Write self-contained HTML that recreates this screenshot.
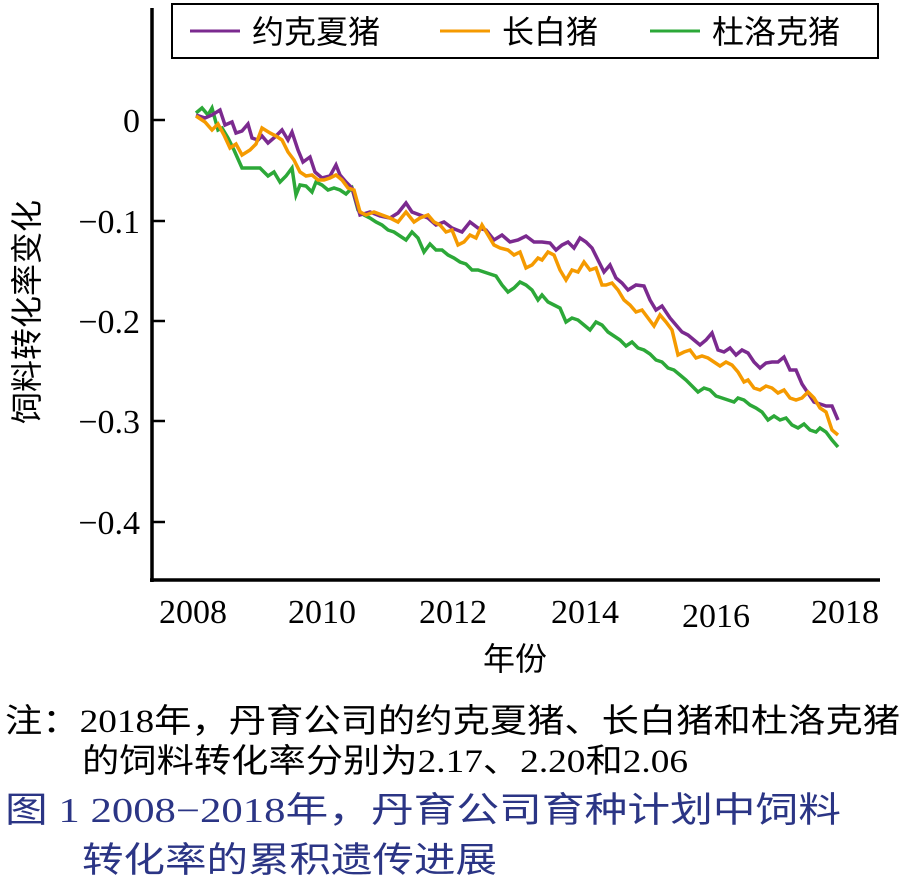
<!DOCTYPE html>
<html><head><meta charset="utf-8"><style>
html,body{margin:0;padding:0;background:#fff;}
svg{display:block;}
text{font-family:"Liberation Serif","Noto Sans CJK SC",serif;}
.cn{font-family:"Liberation Serif","Noto Sans CJK SC",sans-serif;}
</style></head><body>
<svg width="905" height="885" viewBox="0 0 905 885" xmlns="http://www.w3.org/2000/svg">
<line x1="152" y1="8" x2="152" y2="582" stroke="#000" stroke-width="3.5"/>
<line x1="150" y1="580" x2="880" y2="580" stroke="#000" stroke-width="3.5"/>
<g stroke="#000" stroke-width="2.5">
<line x1="152" y1="120" x2="165" y2="120"/><line x1="152" y1="221" x2="165" y2="221"/>
<line x1="152" y1="321" x2="165" y2="321"/><line x1="152" y1="421" x2="165" y2="421"/>
<line x1="152" y1="522" x2="165" y2="522"/>
</g>
<g font-size="34" text-anchor="end" style="font-family:'Liberation Serif',serif">
<text x="140" y="132">0</text><text x="140" y="233">−0.1</text><text x="140" y="333">−0.2</text>
<text x="140" y="433">−0.3</text><text x="140" y="534">−0.4</text>
</g>
<g font-size="34" text-anchor="middle" style="font-family:'Liberation Serif',serif">
<text x="193" y="623">2008</text><text x="322" y="623">2010</text><text x="453" y="623">2012</text>
<text x="585" y="623">2014</text><text x="716" y="627">2016</text><text x="845" y="623">2018</text>
</g>
<text class="cn" x="515" y="670" font-size="32" text-anchor="middle">年份</text>
<text class="cn" transform="translate(38,312) rotate(-90)" font-size="32" text-anchor="middle">饲料转化率变化</text>
<rect x="172" y="4" width="706" height="54" fill="#fff" stroke="#000" stroke-width="2"/>
<line x1="190" y1="31" x2="240" y2="31" stroke="#7b2a8f" stroke-width="3"/>
<text class="cn" x="252" y="43" font-size="32">约克夏猪</text>
<line x1="440" y1="31" x2="490" y2="31" stroke="#f59a00" stroke-width="3"/>
<text class="cn" x="502" y="43" font-size="32">长白猪</text>
<line x1="650" y1="31" x2="700" y2="31" stroke="#2ca838" stroke-width="3"/>
<text class="cn" x="712" y="43" font-size="32">杜洛克猪</text>
<g fill="none" stroke-width="3.5" stroke-linejoin="miter">
<polyline stroke="#2ca838" points="196,113 202,108 208,115 212,108 218,130 222,128 228,138 234,150 242,168 248,168 254,168 260,168 268,176 274,172 280,182 286,176 292,168 296,195 300,185 306,186 312,192 316,182 322,185 328,190 334,188 340,190 346,194 352,188 358,210 364,215 370,218 376,222 382,225 388,230 394,232 400,236 406,240 412,232 418,238 424,252 430,244 436,250 442,250 448,255 454,258 460,262 466,264 472,270 478,270 484,272 490,274 496,276 502,285 508,292 514,288 520,282 526,285 532,290 538,300 542,295 548,302 554,305 560,308 566,322 572,318 578,320 584,325 590,330 596,322 602,325 608,332 614,336 620,340 626,346 632,342 638,348 644,350 650,354 656,360 662,362 668,368 674,370 680,375 686,380 692,386 698,392 704,388 710,390 716,396 722,398 728,400 734,402 738,398 744,400 750,405 756,408 762,412 768,420 774,416 780,420 786,418 792,425 798,428 804,424 810,430 816,432 820,428 826,432 832,440 838,447"/>
<polyline stroke="#7b2a8f" points="196,115 205,118 212,115 220,110 225,125 232,122 236,133 242,131 248,124 252,138 258,140 262,136 268,143 275,137 282,130 288,140 292,132 298,150 303,162 310,157 315,172 322,178 330,176 336,165 340,175 346,182 352,188 360,215 370,212 380,216 390,218 398,213 406,203 412,212 420,215 428,218 436,225 444,222 452,228 462,232 470,222 478,228 486,230 494,240 502,235 510,242 518,240 526,236 534,242 542,242 550,243 556,250 562,245 568,242 574,248 580,238 586,242 592,248 598,260 604,272 610,265 616,278 622,283 628,290 636,285 644,286 650,300 656,310 662,306 670,318 676,325 682,332 688,335 694,340 700,345 706,340 712,333 718,350 724,352 730,348 736,355 742,350 748,353 754,362 760,368 766,363 772,362 778,362 784,357 790,370 796,370 802,384 808,393 814,402 820,404 826,406 832,406 838,420"/>
<polyline stroke="#f59a00" points="196,116 205,122 212,130 218,124 224,135 230,148 236,144 242,155 250,150 256,144 262,128 270,133 276,136 282,140 288,152 294,160 300,172 306,176 312,175 318,180 324,180 330,178 336,175 342,180 348,188 354,190 360,212 366,215 374,212 382,215 390,218 398,222 406,212 414,222 420,218 428,215 434,222 440,225 446,232 452,230 458,245 464,242 470,235 476,238 482,225 488,235 494,245 500,248 508,250 514,255 520,252 526,268 532,265 538,258 542,260 548,252 554,255 560,270 566,280 572,270 578,272 584,262 590,270 596,268 602,285 606,285 612,283 618,290 624,300 630,305 636,312 642,310 648,318 654,326 660,315 666,322 672,330 678,355 684,352 690,350 696,358 702,356 708,358 714,362 720,366 726,362 732,365 738,372 744,382 748,380 754,388 760,390 766,386 772,388 778,393 784,390 790,398 796,400 802,398 808,392 814,398 820,408 826,412 832,430 838,435"/>
</g>
<text class="cn" x="5" y="732" font-size="33" textLength="895" lengthAdjust="spacingAndGlyphs">注：2018年，丹育公司的约克夏猪、长白猪和杜洛克猪</text>
<text class="cn" x="82" y="772" font-size="33" textLength="606" lengthAdjust="spacingAndGlyphs">的饲料转化率分别为2.17、2.20和2.06</text>
<text class="cn" x="5" y="822" font-size="35" fill="#2b3585" textLength="836" lengthAdjust="spacingAndGlyphs">图 1  2008−2018年，丹育公司育种计划中饲料</text>
<text class="cn" x="82" y="872" font-size="35" fill="#2b3585" textLength="415" lengthAdjust="spacingAndGlyphs">转化率的累积遗传进展</text>
</svg>
</body></html>
